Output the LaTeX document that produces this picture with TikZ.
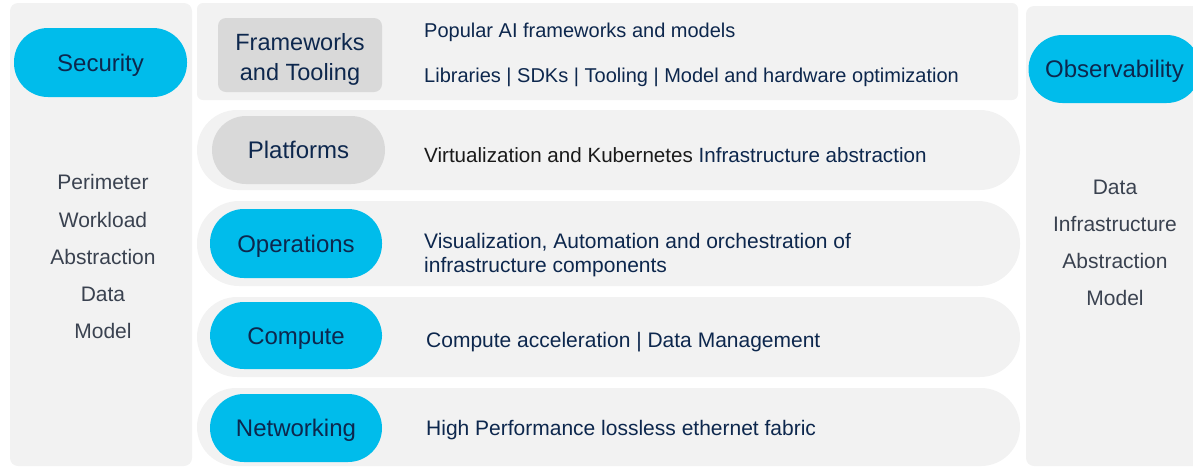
\documentclass[tikz,border=0pt]{standalone}
\usepackage{fontspec}
\setmainfont{Liberation Sans}
\definecolor{panelgrey}{HTML}{F2F2F2}
\definecolor{pillgrey}{HTML}{D9D9D9}
\definecolor{ciscoblue}{HTML}{00BCEB}
\definecolor{navy}{HTML}{0D274D}
\definecolor{sidegrey}{HTML}{3A4250}
\definecolor{nearblack}{HTML}{1A1A1A}
\begin{document}
\begin{tikzpicture}[x=1pt,y=-1pt,
  cpill/.style={fill=ciscoblue, rounded corners=34pt, minimum height=68pt, minimum width=172pt,
    text=navy, font=\fontsize{24}{30}\selectfont, inner sep=0pt, align=center,
    text height=17.2pt, text depth=0pt},
  gpill/.style={cpill, fill=pillgrey},
  fwtext/.style={anchor=base, text=navy, font=\fontsize{23.5}{30}\selectfont, inner sep=0pt},
  desc/.style={anchor=base west, text=navy, font=\fontsize{20}{24}\selectfont, inner sep=0pt},
  descl/.style={desc, font=\fontsize{21}{24}\selectfont},
  side/.style={anchor=base, text=sidegrey, font=\fontsize{21}{24}\selectfont, inner sep=0pt}]
\useasboundingbox (0,0) rectangle (1193,467);
\clip (0,0) rectangle (1193,467);
% side panels
\fill[panelgrey, rounded corners=8pt] (10,3) rectangle (192,466);
\fill[panelgrey, rounded corners=8pt] (1026,6) rectangle (1215,466);
% rows
\fill[panelgrey, rounded corners=6pt] (197,3) rectangle (1018,100);
\fill[panelgrey, rounded corners=40pt] (197,110) rectangle (1020,190);
\fill[panelgrey, rounded corners=42pt] (197,201) rectangle (1020,286);
\fill[panelgrey, rounded corners=40pt] (197,297) rectangle (1020,377);
\fill[panelgrey, rounded corners=39pt] (197,388) rectangle (1020,466);
% pills
\node[cpill, minimum width=173pt, minimum height=69pt] (sec) at (100.5,62.5) {Security};
\node[cpill, minimum width=172pt] (obs) at (1114.5,69) {Observability};
\node[gpill, rounded corners=8pt, minimum width=164pt, minimum height=74pt] (fw) at (300,55) {};
\node[fwtext] (fw1) at (300,50) {Frameworks};
\node[fwtext] (fw2) at (300,80) {and Tooling};
\node[gpill, minimum width=173pt] (plat) at (298.5,150) {Platforms};
\node[cpill, minimum height=69pt] (ops) at (296,243.5) {Operations};
\node[cpill, minimum height=67pt] (comp) at (296,335.5) {Compute};
\node[cpill] (net) at (296,428) {Networking};
% descriptions
\node[desc] (d1) at (424,37) {Popular AI frameworks and models};
\node[desc] (d2) at (424,82) {Libraries | SDKs | Tooling | Model and hardware optimization};
\node[desc, font=\fontsize{20.6}{24}\selectfont] (d3) at (424,162) {\textcolor{nearblack}{Virtualization and Kubernetes} Infrastructure abstraction};
\node[descl] (d4) at (424,248) {Visualization, Automation and orchestration of};
\node[descl] (d5) at (424,272) {infrastructure components};
\node[descl] (d6) at (426,347) {Compute acceleration | Data Management};
\node[descl] (d7) at (426,435) {High Performance lossless ethernet fabric};
% left side list
\node[side] (l1) at (103,189) {Perimeter};
\node[side] (l2) at (103,227) {Workload};
\node[side] (l3) at (103,264) {Abstraction};
\node[side] (l4) at (103,301) {Data};
\node[side] (l5) at (103,338) {Model};
% right side list
\node[side] (r1) at (1115,194) {Data};
\node[side] (r2) at (1115,231) {Infrastructure};
\node[side] (r3) at (1115,268) {Abstraction};
\node[side] (r4) at (1115,305) {Model};
\end{tikzpicture}
\end{document}
